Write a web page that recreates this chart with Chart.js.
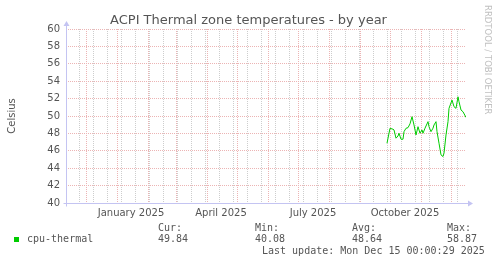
<!DOCTYPE html>
<html>
<head>
<meta charset="utf-8">
<script src="https://cdn.jsdelivr.net/npm/chart.js@4"></script>
<style>
  html, body { margin: 0; padding: 0; background: #fff; }
  canvas { display: block; }
</style>
</head>
<body>
<canvas id="chart" width="497" height="264"></canvas>
<script>
// x axis = days since 11 Nov 2024 (one pixel per day, 400 days shown)
const startDate = Date.UTC(2024, 10, 11);
const spanDays = 400;

// cpu-thermal
const dayIdx = [321, 324, 327, 328, 330, 332, 333, 335, 337, 338, 340, 342, 344, 346, 348, 350, 352, 354,
                356, 357, 359, 362, 363, 365, 367, 368, 370, 371, 373, 375, 377, 378, 380, 382, 383, 386,
                388, 390, 392, 393, 395, 397, 400];
const temps  = [46.87, 48.59, 48.48, 48.40, 47.45, 47.70, 48.02, 47.33, 47.33, 48.20, 48.59, 48.66, 49.10, 49.92,
                48.97, 47.82, 48.77, 48.02, 48.40, 48.02, 48.60, 49.35, 48.77, 48.20, 48.60, 48.97, 49.35, 48.20,
                46.87, 45.53, 45.34, 45.73, 47.82, 49.35, 50.88, 51.83, 51.07, 50.88, 52.21, 51.64, 50.69, 50.49, 49.84];

const yMin = 40, yMax = 60;
const xLabelText  = ['January 2025', 'April 2025', 'July 2025', 'October 2025'];
const xLabelDates = ['2025-01-15', '2025-04-15', '2025-07-16', '2025-10-16'];

const seriesName = 'cpu-thermal';
const statNames  = ['Cur:', 'Min:', 'Avg:', 'Max:'];
const statValues = ['49.84', '40.08', '48.64', '58.87'];
const lastUpdate = 'Last update: Mon Dec 15 00:00:29 2025';

const toDay = s => (Date.parse(s) - startDate) / 864e5;

// vertical grid: month starts (red) and every other Sunday (grey)
const tickKind = new Map();
for (let d = toDay('2024-11-24'); d < spanDays; d += 14) tickKind.set(d, 'minor');
for (let i = 0; i < 13; i++) {
  const d = (Date.UTC(2024, 11 + i, 1) - startDate) / 864e5;
  if (d < spanDays) tickKind.set(d, 'major');
}
const labelAt = new Map();
xLabelDates.forEach((s, i) => { tickKind.set(toDay(s), 'label'); labelAt.set(toDay(s), xLabelText[i]); });

const MAJOR = '#ecb4b4';
const MINOR = '#cdcdcd';
const AXIS = '#c4c4f2';
const TEXT = '#555555';

const extras = {
  id: 'extras',
  afterDraw(chart) {
    const ctx = chart.ctx;
    const a = chart.chartArea;
    const L = Math.round(a.left) + 0.5, B = Math.round(a.bottom) + 0.5;
    ctx.save();

    // axes with arrows
    ctx.strokeStyle = AXIS; ctx.fillStyle = AXIS; ctx.lineWidth = 1;
    ctx.beginPath();
    ctx.moveTo(L, B + 3); ctx.lineTo(L, a.top - 4);
    ctx.moveTo(L - 3, B); ctx.lineTo(a.right + 3, B);
    ctx.stroke();
    ctx.beginPath();
    ctx.moveTo(L - 3, a.top - 3); ctx.lineTo(L + 3, a.top - 3); ctx.lineTo(L, a.top - 8); ctx.closePath(); ctx.fill();
    ctx.beginPath();
    ctx.moveTo(a.right + 2, B - 3); ctx.lineTo(a.right + 2, B + 3); ctx.lineTo(a.right + 7, B); ctx.closePath(); ctx.fill();

    // title
    ctx.fillStyle = TEXT;
    ctx.font = '13px "DejaVu Sans"';
    ctx.textAlign = 'center'; ctx.textBaseline = 'alphabetic';
    ctx.fillText('ACPI Thermal zone temperatures - by year', 248.5, 24);

    // y axis title
    ctx.save();
    ctx.translate(15, (a.top + a.bottom) / 2);
    ctx.rotate(-Math.PI / 2);
    ctx.font = '10px "DejaVu Sans"';
    ctx.fillText('Celsius', 0, 0);
    ctx.restore();

    // watermark
    ctx.save();
    ctx.translate(485, 5);
    ctx.rotate(Math.PI / 2);
    ctx.fillStyle = '#c0c0c0';
    ctx.font = '8.5px "DejaVu Sans"';
    ctx.textAlign = 'left';
    ctx.fillText('RRDTOOL / TOBI OETIKER', 0, 0);
    ctx.restore();

    // legend
    ctx.fillStyle = '#00cc00';
    ctx.fillRect(14, 237, 5, 5);
    ctx.fillStyle = TEXT;
    ctx.font = '10px "DejaVu Sans Mono"';
    ctx.textAlign = 'left';
    ctx.fillText(seriesName, 27, 242);
    const statX = [158, 255, 352, 447];
    statNames.forEach((n, i) => {
      ctx.fillText(n, statX[i], 231);
      ctx.fillText(statValues[i], statX[i], 242);
    });
    ctx.fillText(lastUpdate, 262, 254);
    ctx.restore();
  }
};

new Chart(document.getElementById('chart'), {
  type: 'line',
  data: {
    datasets: [{
      label: seriesName,
      data: dayIdx.map((d, i) => ({ x: d, y: temps[i] })),
      borderColor: '#00cc00',
      borderWidth: 1,
      pointRadius: 0,
      tension: 0,
      fill: false
    }]
  },
  options: {
    responsive: false,
    animation: false,
    devicePixelRatio: 1,
    layout: { padding: { top: 29, right: 31, bottom: 41, left: 0 } },
    plugins: { legend: { display: false }, tooltip: { enabled: false } },
    scales: {
      x: {
        type: 'linear',
        min: 0,
        max: spanDays,
        afterBuildTicks: s => { s.ticks = [...tickKind.keys()].sort((p, q) => p - q).map(v => ({ value: v })); },
        afterFit: s => { s.height = 20; },
        grid: {
          drawTicks: false,
          color: c => {
            const k = tickKind.get(c.tick && c.tick.value);
            return k === 'major' ? MAJOR : k === 'minor' ? MINOR : 'rgba(0,0,0,0)';
          }
        },
        border: { display: false, dash: [1, 1] },
        ticks: {
          autoSkip: false,
          maxRotation: 0,
          padding: 4,
          color: TEXT,
          font: { family: 'DejaVu Sans', size: 10 },
          callback: v => labelAt.get(v) || ''
        }
      },
      y: {
        min: yMin,
        max: yMax,
        afterFit: s => { s.width = 66; },
        grid: {
          drawTicks: false,
          color: c => (c.tick.value % 2 === 0 ? MAJOR : MINOR)
        },
        border: { display: false, dash: [1, 1] },
        ticks: {
          stepSize: 1,
          padding: 6,
          color: TEXT,
          font: { family: 'DejaVu Sans', size: 10 },
          callback: v => (v % 2 === 0 ? String(v) : '')
        }
      }
    }
  },
  plugins: [extras]
});
</script>
</body>
</html>
